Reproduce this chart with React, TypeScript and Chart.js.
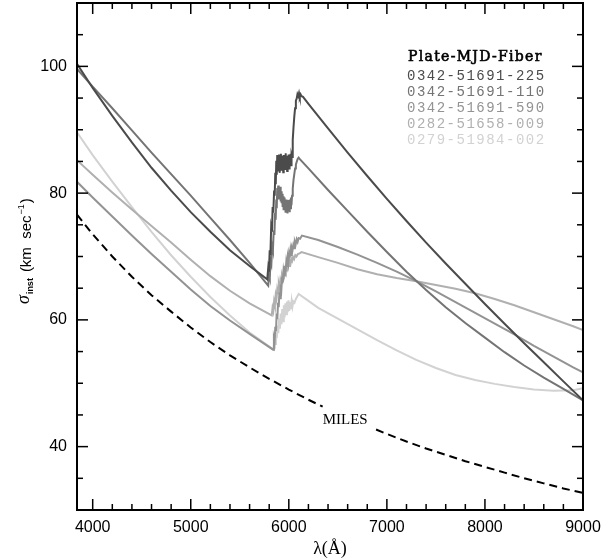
import React, { useEffect, useRef } from "react";
import { Chart, registerables } from "chart.js";

Chart.register(...registerables);

// ---------- data ----------
const seriesNames = [
  "0342-51691-225",
  "0342-51691-110",
  "0342-51691-590",
  "0282-51658-009",
  "0279-51984-002",
];
const seriesColors = ["#4b4b4b", "#747474", "#939393", "#b0b0b0", "#d2d2d2"];
const legendTitle = "Plate-MJD-Fiber";
const milesName = "MILES";
const milesLabelAt: [number, number] = [6345, 43.6];
const xTickLabels = [4000, 5000, 6000, 7000, 8000, 9000];
const yTickLabels = [40, 60, 80, 100];
const xRange = [3840, 9000];
const yRange = [30, 110];
const xTitle = "λ(Å)";

// [wavelength (Å), sigma_inst (km/s)]
const plate225: [number, number][] = [
  [3840, 100.4], [4000, 96.6], [4200, 92.2], [4400, 88.0], [4600, 84.0], [4800, 80.4],
  [5000, 77.0], [5200, 73.9], [5400, 71.0], [5600, 68.5], [5780, 66.4],
  [5790, 68.2], [5797, 67.6], [5805, 71.0], [5812, 70.2], [5820, 74.6], [5828, 73.9],
  [5835, 77.8], [5842, 76.9], [5850, 80.4], [5856, 79.6], [5862, 83.2], [5867, 81.4],
  [5872, 85.1], [5877, 82.9], [5882, 86.0], [5886, 83.4], [5891, 85.6], [5896, 84.4],
  [5900, 86.1], [5905, 83.2], [5910, 85.3], [5914, 84.7], [5919, 86.2], [5924, 83.7],
  [5929, 85.9], [5934, 84.0], [5938, 85.4], [5943, 83.3], [5948, 86.0], [5953, 84.8],
  [5958, 85.7], [5963, 83.8], [5968, 86.3], [5973, 84.2], [5978, 85.2], [5983, 83.5],
  [5988, 85.9], [5993, 84.6], [5998, 86.1], [6003, 83.9], [6008, 85.6], [6013, 84.9],
  [6018, 86.2], [6023, 84.4], [6028, 86.0], [6033, 85.7], [6040, 88.4], [6048, 90.4],
  [6056, 92.1], [6064, 93.4], [6072, 94.6], [6080, 94.9], [6088, 95.6], [6096, 95.3],
  [6104, 95.8], [6112, 95.2], [6120, 95.6], [6130, 95.3], [6145, 95.2],
  [6200, 94.1], [6400, 90.2], [6600, 86.4], [6800, 82.7], [7000, 79.1], [7200, 75.6],
  [7400, 72.2], [7600, 68.9], [7800, 65.7], [8000, 62.5], [8200, 59.4], [8400, 56.3],
  [8600, 53.3], [8800, 50.3], [9000, 47.3],
];

const plate110: [number, number][] = [
  [3840, 99.6], [4000, 96.8], [4200, 93.4], [4400, 89.9], [4600, 86.4], [4800, 83.0],
  [5000, 79.6], [5200, 76.1], [5400, 72.6], [5600, 69.0], [5790, 65.4],
  [5798, 67.1], [5806, 66.6], [5814, 69.3], [5822, 68.8], [5830, 71.6], [5838, 71.0],
  [5846, 74.1], [5853, 73.4], [5860, 76.9], [5866, 75.8], [5872, 79.0], [5877, 77.6],
  [5882, 80.8], [5887, 79.3], [5892, 81.2], [5897, 79.0], [5902, 80.6], [5907, 79.6],
  [5912, 81.0], [5917, 78.7], [5922, 80.3], [5927, 78.4], [5932, 79.9], [5937, 77.8],
  [5942, 79.5], [5947, 77.3], [5952, 79.3], [5957, 77.9], [5962, 78.8], [5967, 76.9],
  [5972, 79.0], [5977, 77.2], [5982, 78.4], [5987, 76.8], [5992, 78.9], [5997, 77.5],
  [6002, 78.3], [6007, 77.0], [6012, 79.0], [6017, 77.6], [6022, 79.3], [6027, 78.1],
  [6033, 79.6], [6040, 80.7], [6048, 82.1], [6056, 83.0], [6064, 83.9], [6072, 84.5],
  [6080, 84.9], [6090, 85.4], [6100, 85.6], [6110, 85.4],
  [6200, 83.9], [6400, 80.5], [6600, 77.2], [6800, 73.9], [7000, 70.7], [7200, 67.6],
  [7400, 64.7], [7600, 62.0], [7800, 59.5], [8000, 57.2], [8200, 54.9], [8400, 52.8],
  [8600, 50.9], [8800, 49.1], [9000, 47.3],
];

const plate590: [number, number][] = [
  [3840, 81.8], [4000, 79.3], [4200, 76.3], [4400, 73.3], [4600, 70.4], [4800, 67.6],
  [5000, 64.8], [5200, 62.2], [5400, 59.9], [5600, 57.8], [5840, 55.3],
  [5848, 57.0], [5855, 56.5], [5862, 58.9], [5869, 58.2], [5876, 61.0], [5883, 60.1],
  [5890, 62.7], [5897, 62.0], [5904, 64.3], [5911, 63.4], [5918, 65.6], [5925, 65.0],
  [5932, 66.8], [5939, 65.9], [5946, 67.7], [5953, 67.0], [5960, 68.5], [5967, 67.6],
  [5974, 69.1], [5981, 68.4], [5988, 69.8], [5995, 69.0], [6002, 70.4], [6009, 69.8],
  [6016, 70.9], [6023, 70.2], [6030, 71.4], [6038, 71.0], [6046, 71.8], [6054, 71.3],
  [6062, 72.3], [6070, 71.9], [6080, 72.7], [6090, 72.3], [6100, 72.9], [6115, 72.8],
  [6134, 73.3],
  [6300, 72.6], [6500, 71.5], [6700, 70.3], [6900, 69.0], [7100, 67.6], [7300, 66.1],
  [7500, 64.5], [7700, 62.8], [7900, 61.1], [8100, 59.4], [8300, 57.7], [8500, 55.9],
  [8700, 54.2], [8900, 52.5], [9000, 51.7],
];

const plate009: [number, number][] = [
  [3840, 85.2], [4000, 82.9], [4200, 80.1], [4400, 77.4], [4600, 74.8], [4800, 72.2],
  [5000, 69.5], [5200, 66.9], [5400, 64.6], [5600, 62.6], [5826, 60.7],
  [5834, 61.9], [5842, 61.4], [5850, 62.9], [5858, 62.3], [5866, 63.9], [5874, 63.3],
  [5882, 64.8], [5890, 64.2], [5898, 65.6], [5906, 65.0], [5914, 66.3], [5922, 65.8],
  [5930, 66.9], [5938, 66.4], [5946, 67.5], [5954, 67.0], [5962, 68.0], [5970, 67.6],
  [5978, 68.5], [5986, 68.1], [5994, 68.9], [6002, 68.5], [6010, 69.3], [6018, 68.9],
  [6026, 69.6], [6034, 69.3], [6044, 69.9], [6054, 69.6], [6066, 70.2], [6078, 70.0],
  [6092, 70.4], [6110, 70.5], [6130, 70.7],
  [6300, 69.9], [6500, 69.0], [6700, 68.0], [6900, 67.2], [7100, 66.6], [7300, 66.1],
  [7500, 65.5], [7700, 64.9], [7900, 64.2], [8100, 63.3], [8300, 62.3], [8500, 61.2],
  [8700, 60.1], [8900, 59.0], [9000, 58.4],
];

const plate002: [number, number][] = [
  [3840, 89.6], [4000, 86.0], [4200, 81.8], [4400, 77.8], [4600, 73.9], [4800, 70.2],
  [5000, 66.8], [5200, 63.6], [5400, 60.7], [5600, 58.0], [5845, 55.3],
  [5853, 56.9], [5861, 56.2], [5869, 58.0], [5877, 57.1], [5885, 59.1], [5893, 57.9],
  [5901, 60.2], [5909, 58.6], [5917, 61.0], [5925, 59.3], [5933, 61.7], [5941, 59.8],
  [5949, 62.3], [5957, 60.4], [5965, 62.6], [5973, 60.9], [5981, 62.9], [5989, 61.2],
  [5997, 63.1], [6005, 61.4], [6013, 62.8], [6021, 61.7], [6029, 63.0], [6037, 62.1],
  [6046, 62.9], [6058, 62.7], [6072, 63.3], [6086, 63.7], [6100, 64.1],
  [6200, 63.0], [6300, 61.9], [6500, 60.2], [6700, 58.5], [6900, 56.8], [7100, 55.2],
  [7300, 53.7], [7500, 52.4], [7700, 51.3], [7900, 50.5], [8100, 49.9], [8300, 49.4],
  [8500, 49.0], [8700, 48.8], [8900, 48.9], [9000, 49.2],
];

const milesCurve: [number, number | null][] = [
  [3840, 76.6], [4000, 73.5], [4200, 70.0], [4400, 66.8], [4600, 63.9], [4800, 61.3],
  [5000, 58.8], [5200, 56.5], [5400, 54.4], [5600, 52.5], [5800, 50.7], [6000, 49.0],
  [6200, 47.4], [6345, 46.3], [6600, null], [6890, 42.7], [7000, 42.0], [7200, 40.8],
  [7400, 39.7], [7600, 38.7], [7800, 37.7], [8000, 36.8], [8200, 35.9], [8400, 35.0],
  [8600, 34.2], [8800, 33.4], [9000, 32.7],
];

const allSeries = [plate225, plate110, plate590, plate009, plate002];

// ---------- plugin: frame, ticks, legend, titles ----------
const decorPlugin = {
  id: "decor",
  afterDraw(chart: any) {
    const { ctx, chartArea: a, scales } = chart;
    const xs = scales.x;
    const ys = scales.y;
    ctx.save();
    ctx.strokeStyle = "#000";
    ctx.lineWidth = 1.5;
    const seg = (x1: number, y1: number, x2: number, y2: number) => {
      ctx.beginPath();
      ctx.moveTo(x1, y1);
      ctx.lineTo(x2, y2);
      ctx.stroke();
    };
    for (let v = 4000; v <= xRange[1]; v += 200) {
      const px = xs.getPixelForValue(v);
      const len = v % 1000 === 0 ? 11 : 6;
      seg(px, a.bottom, px, a.bottom - len);
      seg(px, a.top, px, a.top + len);
    }
    for (let v = 35; v < yRange[1]; v += 5) {
      const py = ys.getPixelForValue(v);
      const len = v % 20 === 0 ? 11 : 6;
      seg(a.left, py, a.left + len, py);
      seg(a.right, py, a.right - len, py);
    }
    ctx.lineWidth = 2;
    ctx.strokeRect(a.left, a.top, a.right - a.left, a.bottom - a.top);

    // legend
    ctx.textAlign = "left";
    ctx.textBaseline = "alphabetic";
    ctx.fillStyle = "#000";
    ctx.strokeStyle = "#000";
    ctx.font = "14px 'DejaVu Serif'";
    (ctx as any).letterSpacing = "1.3px";
    ctx.fillText(legendTitle, 408, 61);
    ctx.lineWidth = 0.6;
    ctx.strokeText(legendTitle, 408, 61);
    ctx.font = "14px 'Liberation Mono'";
    (ctx as any).letterSpacing = "1.5px";
    seriesNames.forEach((name, i) => {
      ctx.fillStyle = seriesColors[i];
      ctx.fillText(name, 407, 79.5 + i * 16);
    });
    (ctx as any).letterSpacing = "0px";

    // MILES label
    ctx.fillStyle = "#000";
    ctx.font = "15px 'Liberation Serif'";
    ctx.fillText(
      milesName,
      xs.getPixelForValue(milesLabelAt[0]),
      ys.getPixelForValue(milesLabelAt[1])
    );

    // x title
    ctx.textAlign = "center";
    ctx.font = "18px 'Liberation Serif'";
    ctx.fillText(xTitle, (a.left + a.right) / 2, 554);

    // y title (rotated)
    ctx.save();
    ctx.translate(31, 304);
    ctx.rotate(-Math.PI / 2);
    ctx.textAlign = "left";
    let cx = 0;
    ctx.font = "italic 18px 'Liberation Serif'";
    ctx.fillText("σ", cx, -2);
    cx += ctx.measureText("σ").width + 1;
    ctx.font = "bold 9px 'Liberation Sans'";
    ctx.fillText("inst", cx, 2);
    cx += ctx.measureText("inst").width + 6;
    ctx.font = "15px 'Liberation Sans'";
    const main = "(km  sec";
    ctx.fillText(main, cx, 0);
    cx += ctx.measureText(main).width + 1;
    ctx.font = "9px 'Liberation Sans'";
    ctx.fillText("−1", cx, -7);
    cx += ctx.measureText("−1").width + 1;
    ctx.font = "15px 'Liberation Sans'";
    ctx.fillText(")", cx, 0);
    ctx.restore();

    ctx.restore();
  },
};

export default function App() {
  const ref = useRef<HTMLCanvasElement | null>(null);
  useEffect(() => {
    if (!ref.current) return;
    const datasets: any[] = allSeries.map((pts, i) => ({
      label: seriesNames[i],
      data: pts.map(([x, y]) => ({ x, y })),
      borderColor: seriesColors[i],
      borderWidth: 2,
      pointRadius: 0,
      tension: 0,
      fill: false,
    }));
    datasets.push({
      label: milesName,
      data: milesCurve.map(([x, y]) => ({ x, y })),
      borderColor: "#000",
      borderWidth: 2,
      borderDash: [8, 5],
      pointRadius: 0,
      tension: 0,
      fill: false,
      spanGaps: false,
    });
    const chart = new Chart(ref.current, {
      type: "line",
      data: { datasets },
      options: {
        responsive: false,
        animation: false,
        devicePixelRatio: 1,
        layout: { padding: { left: 0, right: 31, top: 3, bottom: 0 } },
        plugins: { legend: { display: false }, tooltip: { enabled: false } },
        scales: {
          x: {
            type: "linear",
            min: xRange[0],
            max: xRange[1],
            grid: { display: false, drawTicks: false },
            border: { display: false },
            afterBuildTicks: (s: any) => {
              s.ticks = xTickLabels.map((v) => ({ value: v }));
            },
            afterFit: (s: any) => {
              s.height = 48;
              s.paddingLeft = 0;
              s.paddingRight = 0;
            },
            ticks: {
              color: "#000",
              padding: 8,
              maxRotation: 0,
              autoSkip: false,
              font: { family: "'Liberation Sans'", size: 16 },
              callback: (v: any) => String(v),
            },
          },
          y: {
            type: "linear",
            min: yRange[0],
            max: yRange[1],
            grid: { display: false, drawTicks: false },
            border: { display: false },
            afterBuildTicks: (s: any) => {
              s.ticks = yTickLabels.map((v) => ({ value: v }));
            },
            afterFit: (s: any) => {
              s.width = 77;
              s.paddingTop = 0;
              s.paddingBottom = 0;
            },
            ticks: {
              color: "#000",
              padding: 10,
              autoSkip: false,
              font: { family: "'Liberation Sans'", size: 16 },
              callback: (v: any) => String(v),
            },
          },
        },
      },
      plugins: [decorPlugin],
    });
    return () => chart.destroy();
  }, []);
  return (
    <div style={{ position: "fixed", left: 0, top: 0, width: 614, height: 558, background: "#fff" }}>
      <canvas ref={ref} width={614} height={558} />
    </div>
  );
}
